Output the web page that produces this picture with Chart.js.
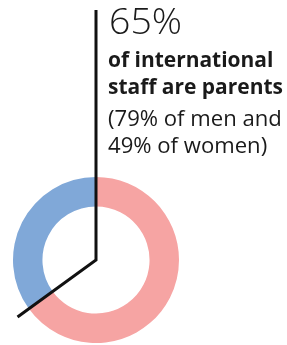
<!DOCTYPE html>
<html lang="en">
<head>
  <meta charset="UTF-8">
  <title>International staff who are parents</title>
  <script src="https://cdn.jsdelivr.net/npm/chart.js"></script>
  <style>
    html, body { margin: 0; padding: 0; background: #fff; }
    #wrap { width: 287px; height: 345px; position: relative; }
  </style>
</head>
<body>
  <div id="wrap"><canvas id="parentsChart"></canvas></div>

  <script>
    // Data
    const labels = ['Parents', 'Not parents'];
    const shares = [65, 35];
    const colors = ['#f6a4a3', '#80a8d8'];

    const headline = '65%';
    const boldLines = ['of international', 'staff are parents'];
    const lightLines = ['(79% of men and', '49% of women)'];

    // font size that makes a line reach the wanted width
    function fitSize(ctx, text, weight, family, width, base) {
      ctx.font = weight + ' ' + base + 'px ' + family;
      const w = ctx.measureText(text).width;
      return base * width / w;
    }

    // Pointer lines + text annotation
    const annotation = {
      id: 'annotation',
      afterDatasetsDraw(chart) {
        const ctx = chart.ctx;
        const arc = chart.getDatasetMeta(0).data[0];
        const cx = arc.x, cy = arc.y;
        const a = arc.endAngle;
        const len = 97;

        ctx.save();
        ctx.strokeStyle = '#111';
        ctx.lineWidth = 3;
        ctx.beginPath();
        ctx.moveTo(cx, 10);
        ctx.lineTo(cx, cy);
        ctx.lineTo(cx + Math.cos(a) * len, cy + Math.sin(a) * len);
        ctx.stroke();

        const x = 108;
        const fam = '"Open Sans"';
        ctx.fillStyle = '#1a1a1a';
        ctx.textBaseline = 'alphabetic';

        let s = fitSize(ctx, headline, '300', fam, 73, 34);
        ctx.font = '300 ' + s + 'px ' + fam;
        ctx.fillText(headline, x + 1, 34);

        s = fitSize(ctx, boldLines[1], 'bold', fam, 175, 20);
        ctx.font = 'bold ' + s + 'px ' + fam;
        ctx.fillText(boldLines[0], x, 67);
        ctx.fillText(boldLines[1], x, 94);

        s = fitSize(ctx, lightLines[0], 'normal', fam, 174, 19);
        ctx.font = 'normal ' + s + 'px ' + fam;
        ctx.fillText(lightLines[0], x, 126);
        ctx.fillText(lightLines[1], x, 153);
        ctx.restore();
      }
    };

    const ctx = document.getElementById('parentsChart').getContext('2d');
    new Chart(ctx, {
      type: 'doughnut',
      data: {
        labels: labels,
        datasets: [{
          data: shares,
          backgroundColor: colors,
          borderWidth: 0
        }]
      },
      options: {
        responsive: true,
        maintainAspectRatio: false,
        animation: false,
        cutout: '64.5%',
        layout: {
          padding: { left: 13, right: 108, top: 177, bottom: 2 }
        },
        plugins: {
          legend: { display: false },
          tooltip: { enabled: false }
        }
      },
      plugins: [annotation]
    });
  </script>
</body>
</html>
